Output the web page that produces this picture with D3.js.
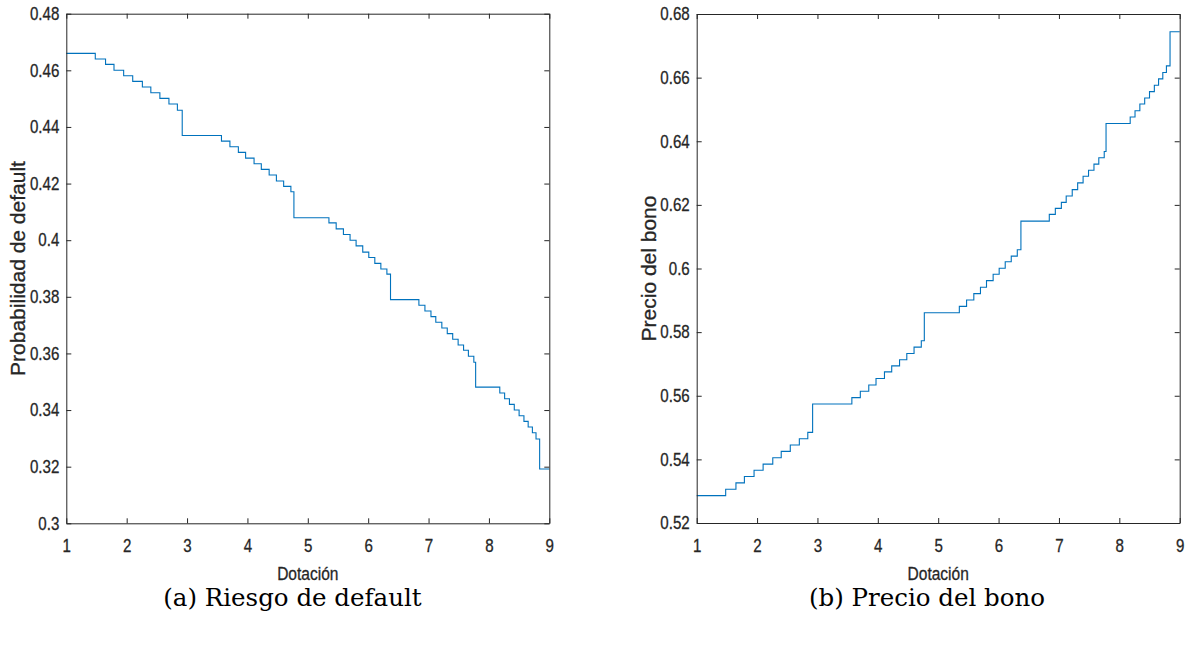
<!DOCTYPE html>
<html>
<head>
<meta charset="utf-8">
<script src="https://cdn.jsdelivr.net/npm/d3@7"></script>
<style>
  html, body { margin: 0; padding: 0; background: #fff; }
  .tick-label { font-family: "Liberation Sans", Arial, sans-serif; fill: #262626; stroke: #262626; stroke-width: 0.3px; }
  .caption { font-family: "DejaVu Serif", "Liberation Serif", serif; fill: #000; }
</style>
</head>
<body>
<div id="chart"></div>
<script>
// Dotación values where the step function changes level (shared by both panels)
const dotacionSteps = [
  1.48, 1.65, 1.79, 1.95, 2.10, 2.26, 2.40, 2.55, 2.70, 2.84, 2.92,
  3.57, 3.71, 3.85, 3.97, 4.11, 4.23, 4.36, 4.48, 4.60, 4.72, 4.77,
  5.35, 5.47, 5.59, 5.70, 5.80, 5.91, 6.01, 6.11, 6.21, 6.31, 6.37,
  6.84, 6.94, 7.04, 7.12, 7.22, 7.31, 7.40, 7.49, 7.58, 7.66, 7.75, 7.78,
  8.18, 8.26, 8.34, 8.42, 8.50, 8.58, 8.65, 8.72, 8.78, 8.84
];

// level held from the previous breakpoint (first one starts at Dotación = 1)
const riesgoDefault = [
  0.4660, 0.4640, 0.4621, 0.4600, 0.4581, 0.4561, 0.4541, 0.4521, 0.4501, 0.4481, 0.4459,
  0.4370, 0.4350, 0.4330, 0.4310, 0.4290, 0.4270, 0.4250, 0.4230, 0.4209, 0.4190, 0.4171,
  0.4079, 0.4061, 0.4040, 0.4020, 0.4000, 0.3980, 0.3958, 0.3939, 0.3918, 0.3898, 0.3880,
  0.3790, 0.3770, 0.3750, 0.3730, 0.3710, 0.3690, 0.3670, 0.3650, 0.3630, 0.3611, 0.3590, 0.3569,
  0.3481, 0.3460, 0.3440, 0.3420, 0.3400, 0.3380, 0.3360, 0.3340, 0.3320, 0.3298,
  0.3192
];

const precioBono = [
  0.5286, 0.5306, 0.5326, 0.5346, 0.5366, 0.5385, 0.5405, 0.5425, 0.5445, 0.5465, 0.5485,
  0.5574, 0.5594, 0.5614, 0.5634, 0.5654, 0.5675, 0.5694, 0.5713, 0.5733, 0.5753, 0.5773,
  0.5861, 0.5881, 0.5901, 0.5921, 0.5941, 0.5962, 0.5982, 0.6001, 0.6021, 0.6039, 0.6059,
  0.6149, 0.6170, 0.6189, 0.6208, 0.6228, 0.6248, 0.6269, 0.6290, 0.6309, 0.6328, 0.6348, 0.6368,
  0.6456, 0.6476, 0.6496, 0.6517, 0.6536, 0.6556, 0.6576, 0.6596, 0.6616, 0.6637,
  0.6744
];

const xTicks = [1, 2, 3, 4, 5, 6, 7, 8, 9];
const yTicksRiesgo = [0.3, 0.32, 0.34, 0.36, 0.38, 0.4, 0.42, 0.44, 0.46, 0.48];
const yTicksPrecio = [0.52, 0.54, 0.56, 0.58, 0.6, 0.62, 0.64, 0.66, 0.68];

const W = 1190, H = 645;
const narrow = 0.84; // the original tick font is a condensed Helvetica

const svg = d3.select("#chart").append("svg")
  .attr("width", W)
  .attr("height", H);

function styleTicks(a) {
  a.select(".domain").attr("stroke", "#262626");
  a.selectAll(".tick line").attr("stroke", "#262626");
  a.selectAll(".tick text")
    .attr("class", "tick-label")
    .attr("font-size", 18)
    .attr("transform", `scale(${narrow},1)`);
}

function drawPanel(opt) {
  const x = d3.scaleLinear().domain([1, 9]).range([opt.left, opt.right]);
  const y = d3.scaleLinear().domain(opt.yDomain).range([opt.bottom, opt.top]);
  const g = svg.append("g");
  const tickLen = 5;

  // step line
  const pts = [{ x: 1, v: opt.values[0] }];
  dotacionSteps.forEach((s, i) => pts.push({ x: s, v: opt.values[i + 1] }));
  pts.push({ x: 9, v: opt.values[opt.values.length - 1] });

  const line = d3.line()
    .x(d => x(d.x))
    .y(d => y(d.v))
    .curve(d3.curveStepAfter);

  g.append("path")
    .datum(pts)
    .attr("fill", "none")
    .attr("stroke", "#0072BD")
    .attr("stroke-width", 1.1)
    .attr("d", line);

  // bottom / top axes, ticks pointing inward like MATLAB
  g.append("g")
    .attr("transform", `translate(0,${opt.bottom})`)
    .call(d3.axisBottom(x).tickValues(xTicks).tickSizeInner(-tickLen).tickSizeOuter(0).tickPadding(16))
    .call(styleTicks);

  g.append("g")
    .attr("transform", `translate(0,${opt.top})`)
    .call(d3.axisTop(x).tickValues(xTicks).tickSizeInner(-tickLen).tickSizeOuter(0).tickFormat(""))
    .call(styleTicks);

  // left / right axes
  g.append("g")
    .attr("transform", `translate(${opt.left},0)`)
    .call(d3.axisLeft(y).tickValues(opt.yTicks).tickSizeInner(-tickLen).tickSizeOuter(0)
      .tickPadding(8.3).tickFormat(d3.format("~g")))
    .call(styleTicks);

  g.append("g")
    .attr("transform", `translate(${opt.right},0)`)
    .call(d3.axisRight(y).tickValues(opt.yTicks).tickSizeInner(-tickLen).tickSizeOuter(0).tickFormat(""))
    .call(styleTicks);

  g.selectAll("text").attr("font-family", null);

  // axis titles
  g.append("g")
    .attr("transform", `translate(${(opt.left + opt.right) / 2},580)`)
    .append("text")
    .attr("class", "tick-label")
    .attr("transform", `scale(${narrow},1)`)
    .attr("text-anchor", "middle")
    .attr("font-size", 18.5)
    .text("Dotación");

  g.append("text")
    .attr("class", "tick-label")
    .attr("transform", `translate(${opt.yLabelX},${(opt.top + opt.bottom) / 2}) rotate(-90)`)
    .attr("text-anchor", "middle")
    .attr("font-size", 21)
    .text(opt.yLabel);

  // caption under the panel
  g.append("text")
    .attr("class", "caption")
    .attr("x", opt.captionX)
    .attr("y", 606)
    .attr("text-anchor", "middle")
    .attr("font-size", 24.5)
    .text(opt.caption);
}

drawPanel({
  left: 66.3, right: 549.3, top: 13.7, bottom: 523.3,
  yDomain: [0.3, 0.48], yTicks: yTicksRiesgo, values: riesgoDefault,
  yLabel: "Probabilidad de default", yLabelX: 25,
  caption: "(a) Riesgo de default", captionX: 292.5
});

drawPanel({
  left: 696.7, right: 1179.7, top: 14, bottom: 523,
  yDomain: [0.52, 0.68], yTicks: yTicksPrecio, values: precioBono,
  yLabel: "Precio del bono", yLabelX: 656,
  caption: "(b) Precio del bono", captionX: 927
});
</script>
</body>
</html>
